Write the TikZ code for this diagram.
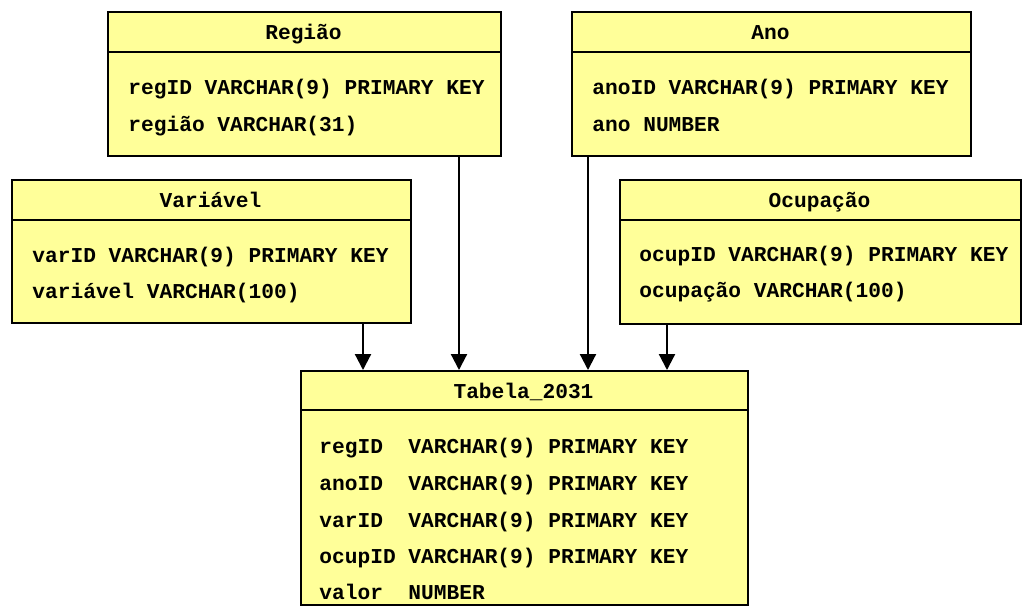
\documentclass[tikz,border=0pt]{standalone}
\usepackage{fontspec}
\setmonofont{Liberation Mono}
\usetikzlibrary{arrows.meta}
\definecolor{boxfill}{HTML}{FFFF99}
\newcommand{\tblfont}{\ttfamily\bfseries\fontsize{10.6}{12}\selectfont}
\tikzset{
  tbl/.style={draw=black, fill=boxfill, line width=1.2pt, rectangle, inner sep=0pt, anchor=north west},
  hdr/.style={font=\tblfont, inner sep=0pt, anchor=base},
  fld/.style={font=\tblfont, inner sep=0pt, anchor=base west},
  sep/.style={line width=1.2pt},
  fk/.style={line width=1.1pt, -{Triangle[length=8pt,width=8pt]}}
}
\begin{document}
\begin{tikzpicture}[x=0.5pt,y=-0.5pt]
\useasboundingbox (0,0) rectangle (1022,606);
% boxes
\node[tbl, minimum width=196.5pt, minimum height=72pt] (reg) at (107,11) {};
\node[tbl, minimum width=199.5pt, minimum height=72pt] (ano) at (571,11) {};
\node[tbl, minimum width=199.5pt, minimum height=71.5pt] (var) at (11,179) {};
\node[tbl, minimum width=200.5pt, minimum height=72pt] (ocu) at (619,179) {};
\node[tbl, minimum width=223.5pt, minimum height=117pt] (tab) at (300,370) {};
% header separators
\draw[sep] ([yshift=-20.5pt]reg.north west) -- ([yshift=-20.5pt]reg.north east);
\draw[sep] ([yshift=-20.5pt]ano.north west) -- ([yshift=-20.5pt]ano.north east);
\draw[sep] ([yshift=-20.5pt]var.north west) -- ([yshift=-20.5pt]var.north east);
\draw[sep] ([yshift=-20.5pt]ocu.north west) -- ([yshift=-20.5pt]ocu.north east);
\draw[sep] ([yshift=-20pt]tab.north west) -- ([yshift=-20pt]tab.north east);
% headers
\node[hdr] (regh) at (303.5,39) {Região};
\node[hdr] (anoh) at (770.5,39) {Ano};
\node[hdr] (varh) at (210.5,207) {Variável};
\node[hdr] (ocuh) at (819.5,207) {Ocupação};
\node[hdr] (tabh) at (523.5,398) {Tabela\_2031};
% fields
\node[fld] (r1) at (128,94) {regID VARCHAR(9) PRIMARY KEY};
\node[fld] (r2) at (128,131) {região VARCHAR(31)};
\node[fld] (a1) at (592,94) {anoID VARCHAR(9) PRIMARY KEY};
\node[fld] (a2) at (592,131) {ano NUMBER};
\node[fld] (v1) at (32,262) {varID VARCHAR(9) PRIMARY KEY};
\node[fld] (v2) at (32,298) {variável VARCHAR(100)};
\node[fld] (o1) at (639,261) {ocupID VARCHAR(9) PRIMARY KEY};
\node[fld] (o2) at (639,297) {ocupação VARCHAR(100)};
\node[fld] (t1) at (319,453) {regID\ \ VARCHAR(9) PRIMARY KEY};
\node[fld] (t2) at (319,490) {anoID\ \ VARCHAR(9) PRIMARY KEY};
\node[fld] (t3) at (319,527) {varID\ \ VARCHAR(9) PRIMARY KEY};
\node[fld] (t4) at (319,563) {ocupID VARCHAR(9) PRIMARY KEY};
\node[fld] (t5) at (319,599) {valor\ \ NUMBER};
% connectors
\coordinate (xv) at (363,0);
\coordinate (xr) at (459,0);
\coordinate (xa) at (588,0);
\coordinate (xo) at (667,0);
\draw[fk] (var.south -| xv) -- (tab.north -| xv);
\draw[fk] (reg.south -| xr) -- (tab.north -| xr);
\draw[fk] (ano.south -| xa) -- (tab.north -| xa);
\draw[fk] (ocu.south -| xo) -- (tab.north -| xo);
\end{tikzpicture}
\end{document}
